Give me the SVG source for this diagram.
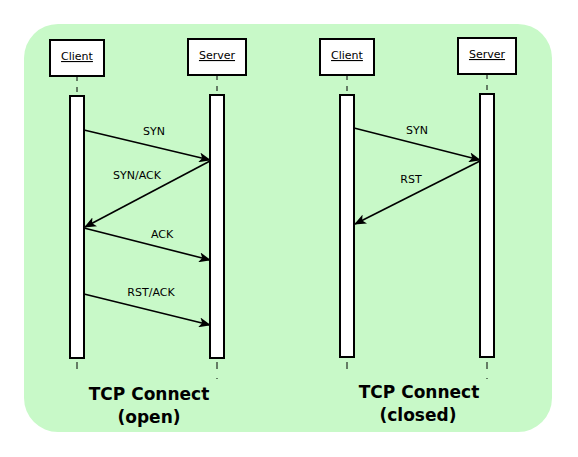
<svg xmlns="http://www.w3.org/2000/svg" width="578" height="457" viewBox="0 0 578 457">
<defs>
<style>
.box{fill:#fff;stroke:#000;stroke-width:2}
.bar{fill:#fff;stroke:#000;stroke-width:2}
.life{stroke:#000;stroke-width:1;stroke-dasharray:5,6}
.name{font-family:"DejaVu Sans",sans-serif;font-size:11px;text-anchor:middle;text-decoration:underline}
.lbl{font-family:"DejaVu Sans",sans-serif;font-size:11px;text-anchor:middle}
.title{font-family:"DejaVu Sans",sans-serif;font-size:17px;font-weight:bold;text-anchor:middle}
.msg{stroke:#000;stroke-width:1.6;fill:none;marker-end:url(#ah)}
</style>
<marker id="ah" viewBox="0 0 12 10" refX="11" refY="5" markerWidth="12" markerHeight="10" markerUnits="userSpaceOnUse" orient="auto">
<path d="M0,0 L12,5 L0,10 L3,5 Z" fill="#000"/>
</marker>
</defs>
<rect x="24" y="24" width="528" height="408" rx="34" ry="34" fill="#c8f9c8"/>
<g id="left-client">
<line class="life" x1="77" y1="76" x2="77" y2="96"/>
<line x1="77" y1="362" x2="77" y2="369" stroke="#000"/>
<rect class="box" x="50" y="40" width="54" height="36"/>
<text class="name" x="77" y="60">Client</text>
<rect class="bar" x="70" y="96" width="14" height="262"/>
</g>
<g id="left-server">
<line class="life" x1="217" y1="75" x2="217" y2="95"/>
<line x1="217" y1="362" x2="217" y2="369" stroke="#000"/>
<rect x="216.5" y="378" width="1" height="1" fill="#000"/>
<rect class="box" x="188" y="39" width="58" height="36"/>
<text class="name" x="217" y="59">Server</text>
<rect class="bar" x="210" y="95" width="14" height="263"/>
</g>
<g id="right-client">
<line class="life" x1="347" y1="75" x2="347" y2="95"/>
<line x1="347" y1="362" x2="347" y2="369" stroke="#000"/>
<rect class="box" x="320" y="39" width="54" height="36"/>
<text class="name" x="347" y="59">Client</text>
<rect class="bar" x="340" y="95" width="14" height="262"/>
</g>
<g id="right-server">
<line class="life" x1="487" y1="74" x2="487" y2="94"/>
<line x1="487" y1="362" x2="487" y2="369" stroke="#000"/>
<rect x="486.5" y="378" width="1" height="1" fill="#000"/>
<rect class="box" x="458" y="38" width="58" height="36"/>
<text class="name" x="487" y="58">Server</text>
<rect class="bar" x="480" y="94" width="14" height="263"/>
</g>
<g id="connectors">
<line class="msg" x1="84" y1="130" x2="210" y2="160"/>
<line class="msg" x1="210" y1="161" x2="85" y2="227"/>
<line class="msg" x1="84" y1="228" x2="210" y2="260"/>
<line class="msg" x1="84" y1="294" x2="210" y2="325"/>
<line class="msg" x1="354" y1="128" x2="480" y2="160"/>
<line class="msg" x1="480" y1="161" x2="355" y2="224"/>
</g>
<g id="labels">
<text class="lbl" x="154" y="135">SYN</text>
<text class="lbl" x="137" y="179">SYN/ACK</text>
<text class="lbl" x="162" y="238">ACK</text>
<text class="lbl" x="151" y="296">RST/ACK</text>
<text class="lbl" x="417" y="134">SYN</text>
<text class="lbl" x="411" y="183">RST</text>
<text class="title" x="149" y="400">TCP Connect</text>
<text class="title" x="149" y="423">(open)</text>
<text class="title" x="419" y="398">TCP Connect</text>
<text class="title" x="418" y="421">(closed)</text>
</g>
</svg>
